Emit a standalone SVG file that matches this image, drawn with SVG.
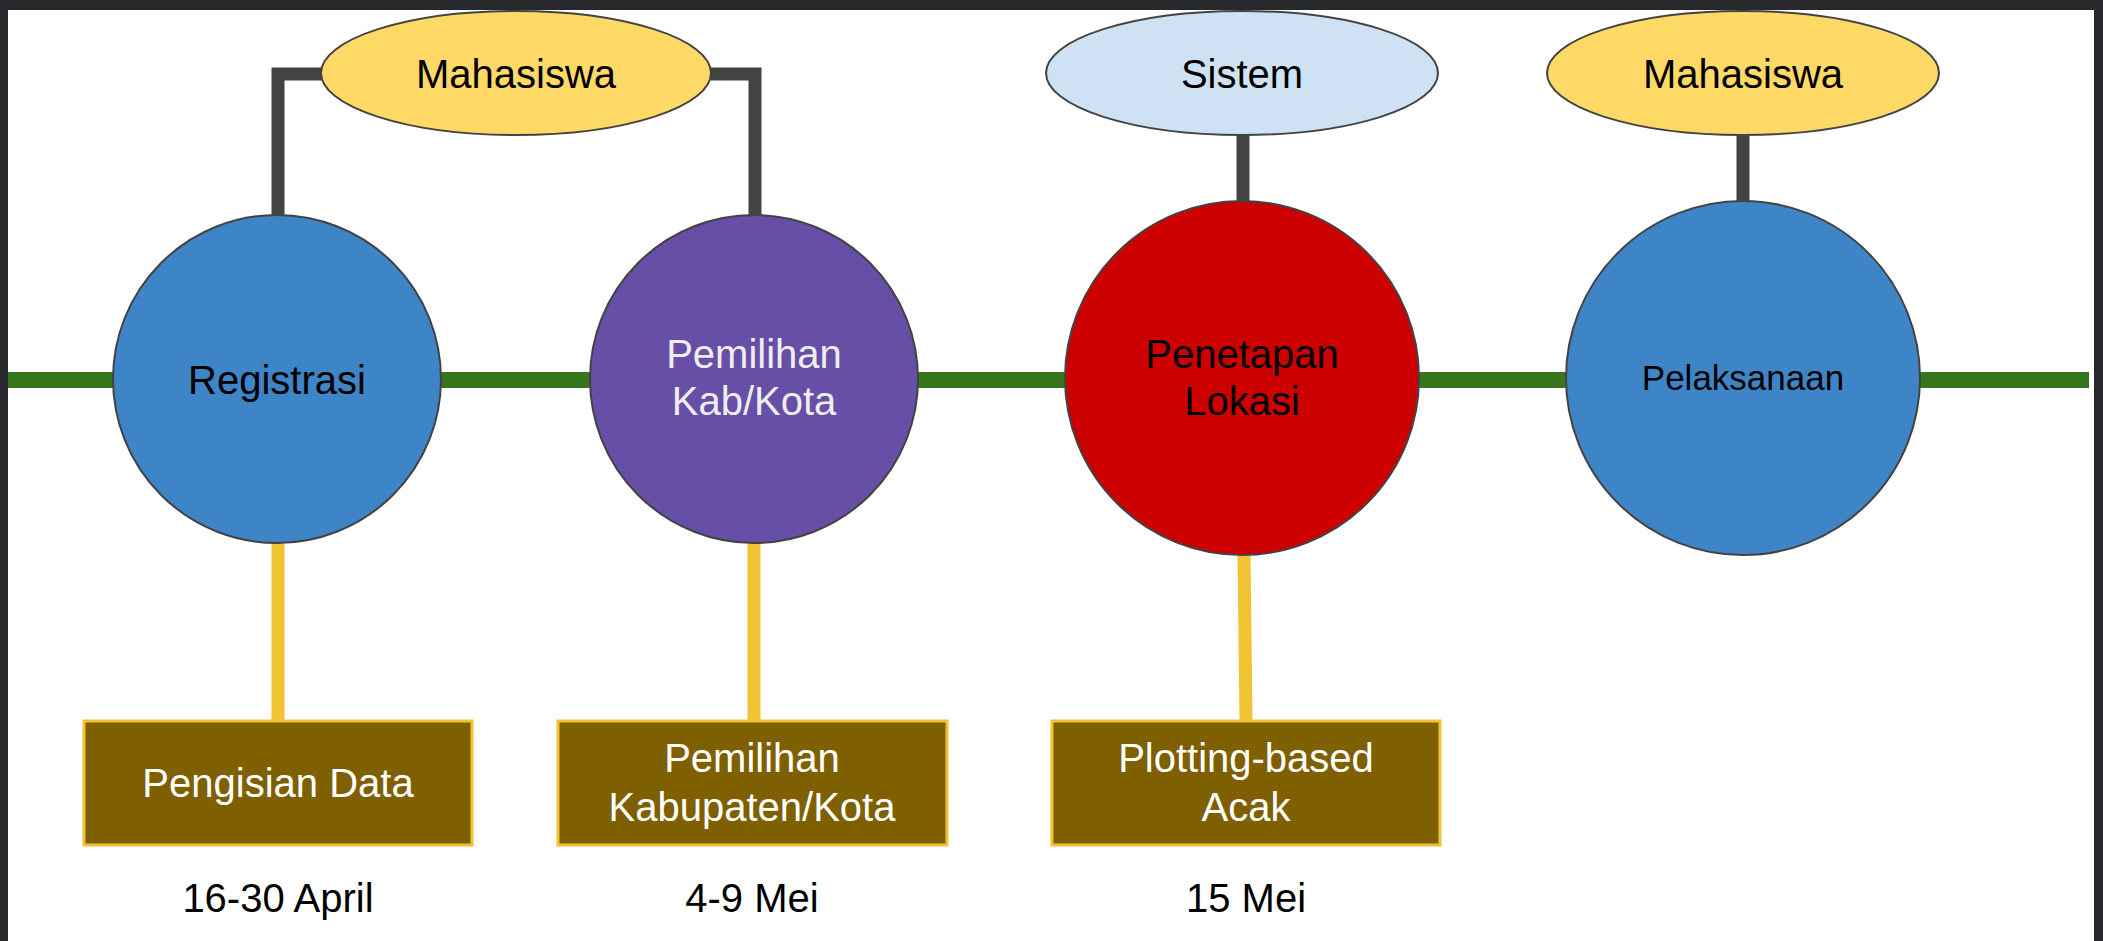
<svg xmlns="http://www.w3.org/2000/svg" width="2103" height="941" viewBox="0 0 2103 941">
<style>
.lbl{font-family:"Liberation Sans",Arial,sans-serif;text-anchor:middle}
.node{stroke:#434343;stroke-width:2}
.box{fill:#7f6000;stroke:#f1c232;stroke-width:3}
.dark{fill:none;stroke:#434343;stroke-width:13}
.yel{fill:none;stroke:#f1c232;stroke-width:13}
</style>
<rect x="0" y="0" width="2103" height="941" fill="#26282b"/>
<rect x="8" y="10" width="2086" height="931" fill="#ffffff"/>
<g id="connectors">
<line x1="8" y1="380" x2="2089" y2="380" stroke="#38761d" stroke-width="16"/>
<path class="dark" d="M278,215 V74 H755 V215"/>
<line class="dark" x1="1243" y1="130" x2="1243" y2="205"/>
<line class="dark" x1="1743" y1="130" x2="1743" y2="205"/>
<line class="yel" x1="278" y1="540" x2="278" y2="721"/>
<line class="yel" x1="754" y1="540" x2="754" y2="721"/>
<line class="yel" x1="1244" y1="552" x2="1246" y2="721"/>
</g>
<g id="mahasiswa1"><ellipse class="node" cx="516" cy="73" rx="195" ry="62" fill="#ffd966"/><text class="lbl" x="516" y="88" font-size="40" fill="#000">Mahasiswa</text></g>
<g id="sistem"><ellipse class="node" cx="1242" cy="73" rx="196" ry="62" fill="#cfe2f3"/><text class="lbl" x="1242" y="88" font-size="40" fill="#000">Sistem</text></g>
<g id="mahasiswa2"><ellipse class="node" cx="1743" cy="73" rx="196" ry="62" fill="#ffd966"/><text class="lbl" x="1743" y="88" font-size="40" fill="#000">Mahasiswa</text></g>
<g id="registrasi"><circle class="node" cx="277" cy="379" r="164" fill="#3d85c6"/><text class="lbl" x="277" y="394" font-size="40" fill="#000">Registrasi</text></g>
<g id="pemilihan"><circle class="node" cx="754" cy="379" r="164" fill="#674ea7"/><text class="lbl" x="754" y="368" font-size="40" fill="#eeeeee">Pemilihan</text><text class="lbl" x="754" y="415" font-size="40" fill="#eeeeee">Kab/Kota</text></g>
<g id="penetapan"><ellipse class="node" cx="1242" cy="378" rx="177" ry="177" fill="#cc0000"/><text class="lbl" x="1242" y="368" font-size="40" fill="#000">Penetapan</text><text class="lbl" x="1242" y="415" font-size="40" fill="#000">Lokasi</text></g>
<g id="pelaksanaan"><ellipse class="node" cx="1743" cy="378" rx="177" ry="177" fill="#3d85c6"/><text class="lbl" x="1743" y="390" font-size="35" fill="#000">Pelaksanaan</text></g>
<g id="box1"><rect class="box" x="84" y="721" width="388" height="124"/><text class="lbl" x="278" y="797" font-size="40" fill="#fff">Pengisian Data</text></g>
<g id="box2"><rect class="box" x="558" y="721" width="389" height="124"/><text class="lbl" x="752" y="772" font-size="40" fill="#fff">Pemilihan</text><text class="lbl" x="752" y="821" font-size="40" fill="#fff">Kabupaten/Kota</text></g>
<g id="box3"><rect class="box" x="1052" y="721" width="388" height="124"/><text class="lbl" x="1246" y="772" font-size="40" fill="#fff">Plotting-based</text><text class="lbl" x="1246" y="821" font-size="40" fill="#fff">Acak</text></g>
<g id="date1"><text class="lbl" x="278" y="912" font-size="40" fill="#000">16-30 April</text></g>
<g id="date2"><text class="lbl" x="752" y="912" font-size="40" fill="#000">4-9 Mei</text></g>
<g id="date3"><text class="lbl" x="1246" y="912" font-size="40" fill="#000">15 Mei</text></g>
</svg>
